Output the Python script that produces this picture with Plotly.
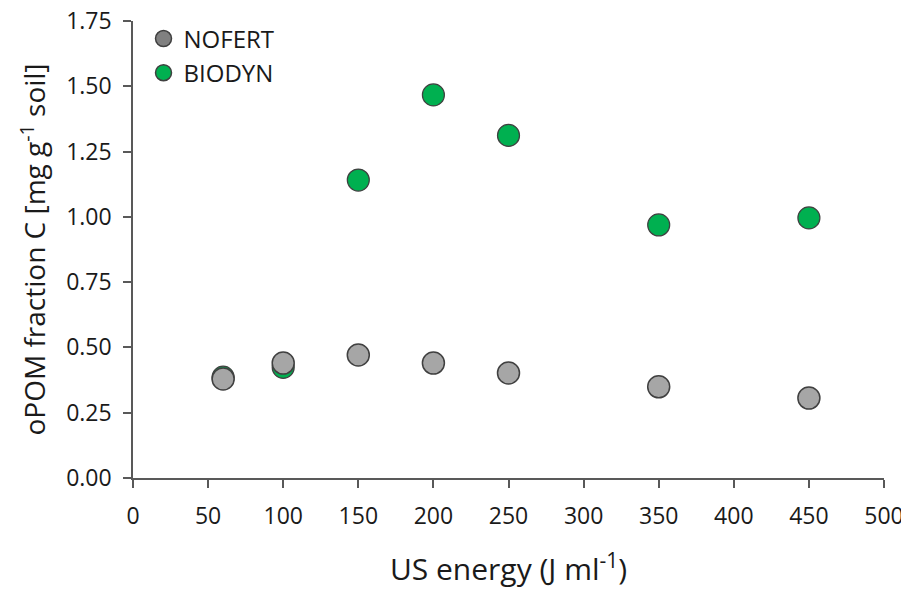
import plotly.graph_objects as go

energy = [60, 100, 150, 200, 250, 350, 450]
nofert = [0.379, 0.440, 0.471, 0.440, 0.402, 0.349, 0.306]
biodyn = [0.386, 0.424, 1.141, 1.467, 1.312, 0.969, 0.996]
series_names = ["NOFERT", "BIODYN"]
x_ticks = [0, 50, 100, 150, 200, 250, 300, 350, 400, 450, 500]
y_ticks = [0.0, 0.25, 0.5, 0.75, 1.0, 1.25, 1.5, 1.75]

FONT = "Open Sans"
TXT = "#1a1a1a"
AX = "#595959"

fig = go.Figure()
# data traces (BIODYN drawn first so NOFERT sits on top as in reference)
fig.add_trace(go.Scatter(x=energy, y=biodyn, mode="markers", showlegend=False,
                         marker=dict(size=22, color="#00B050", line=dict(color="#404040", width=1.2))))
fig.add_trace(go.Scatter(x=energy, y=nofert, mode="markers", showlegend=False,
                         marker=dict(size=22, color="#A6A6A6", line=dict(color="#404040", width=1.5))))
# legend entries
fig.add_trace(go.Scatter(x=[None], y=[None], mode="markers", name=series_names[0],
                         marker=dict(size=20, color="#808080", line=dict(color="#404040", width=1.5))))
fig.add_trace(go.Scatter(x=[None], y=[None], mode="markers", name=series_names[1],
                         marker=dict(size=20, color="#00B050", line=dict(color="#404040", width=1.5))))

fig.update_layout(
    width=909, height=589,
    margin=dict(l=125, r=33, t=13, b=119, autoexpand=False),
    paper_bgcolor="white", plot_bgcolor="white",
    font=dict(family=FONT, color=TXT, size=24),
    legend=dict(x=0.014, y=1.01, xanchor="left", yanchor="top", font=dict(size=24),
                bgcolor="rgba(0,0,0,0)", itemsizing="trace", tracegroupgap=0, itemwidth=30),
    xaxis=dict(range=[0, 500], tickvals=x_ticks, ticktext=[str(v) for v in x_ticks],
               showgrid=False, zeroline=False, showline=True, linecolor=AX, linewidth=1.5,
               ticks="outside", ticklen=8, tickcolor=AX, tickwidth=1.5, automargin=False,
               ticklabeloverflow="allow",
               tickfont=dict(size=23, color=TXT), ticklabelstandoff=9,
               title=dict(text="US energy (J ml<sup>-1</sup>)", font=dict(size=30, color=TXT), standoff=29)),
    yaxis=dict(range=[0, 1.75], tickvals=y_ticks, ticktext=[f"{v:.2f}" for v in y_ticks],
               showgrid=False, zeroline=False, showline=True, linecolor=AX, linewidth=1.5,
               ticks="outside", ticklen=8, tickcolor=AX, tickwidth=1.5, automargin=False,
               ticklabeloverflow="allow",
               tickfont=dict(size=23, color=TXT), ticklabelstandoff=7,
               title=dict(text="oPOM fraction C [mg g<sup>-1</sup> soil]", font=dict(size=28, color=TXT), standoff=12)),
)

fig.write_html("out.html")
